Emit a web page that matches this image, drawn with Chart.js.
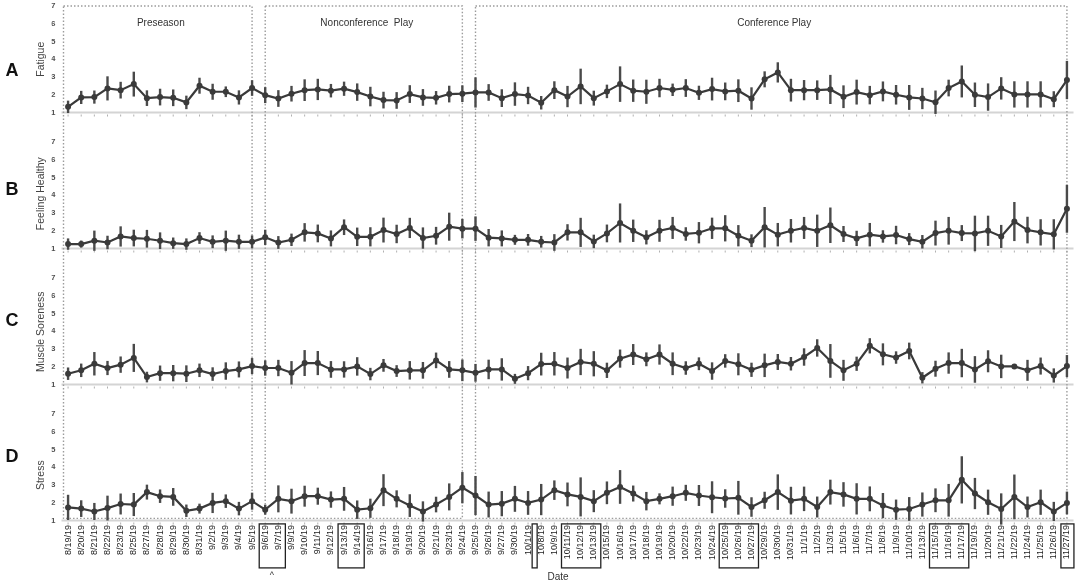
<!DOCTYPE html>
<html>
<head>
<meta charset="utf-8">
<script src="https://cdn.jsdelivr.net/npm/chart.js@4.4.0/dist/chart.umd.min.js"></script>
<style>
  html, body { margin: 0; padding: 0; background: #fff; }
  #wrap { width: 1084px; height: 588px; position: relative; }
</style>
</head>
<body>
<div id="wrap"><canvas id="chartCanvas"></canvas></div>
<script>
var dates = [
  "8/19/19","8/20/19","8/21/19","8/22/19","8/23/19","8/25/19","8/27/19","8/28/19","8/29/19","8/30/19",
  "8/31/19","9/2/19","9/3/19","9/4/19","9/5/19","9/6/19","9/7/19","9/9/19","9/10/19","9/11/19",
  "9/12/19","9/13/19","9/14/19","9/16/19","9/17/19","9/18/19","9/19/19","9/20/19","9/21/19","9/23/19",
  "9/24/19","9/25/19","9/26/19","9/27/19","9/30/19","10/1/19","10/8/19","10/9/19","10/11/19","10/12/19",
  "10/13/19","10/15/19","10/16/19","10/17/19","10/18/19","10/19/19","10/20/19","10/22/19","10/23/19","10/24/19",
  "10/25/19","10/26/19","10/27/19","10/29/19","10/30/19","10/31/19","11/1/19","11/2/19","11/3/19","11/5/19",
  "11/6/19","11/7/19","11/8/19","11/9/19","11/10/19","11/13/19","11/15/19","11/16/19","11/17/19","11/19/19",
  "11/20/19","11/21/19","11/22/19","11/24/19","11/25/19","11/26/19","11/27/19"
];

var fatigueMean = [
  1.32,1.85,1.87,2.36,2.26,2.6,1.81,1.87,1.83,1.57,
  2.51,2.17,2.17,1.85,2.38,1.98,1.79,2.06,2.26,2.3,
  2.23,2.34,2.15,1.9,1.7,1.68,2.04,1.85,1.83,2.04,
  2.06,2.13,2.13,1.81,2.04,1.96,1.55,2.26,1.9,2.47,
  1.81,2.19,2.6,2.23,2.17,2.38,2.28,2.38,2.11,2.32,
  2.19,2.23,1.79,2.87,3.26,2.26,2.26,2.26,2.3,1.89,
  2.15,1.98,2.19,2.0,1.85,1.79,1.58,2.38,2.75,2.0,
  1.87,2.36,2.02,2.02,2.02,1.75,2.83
];
var fatigueErr = [
  0.35,0.37,0.37,0.68,0.47,0.7,0.44,0.47,0.47,0.38,
  0.45,0.45,0.3,0.4,0.44,0.45,0.47,0.44,0.61,0.6,
  0.38,0.4,0.49,0.55,0.47,0.47,0.5,0.47,0.38,0.47,
  0.47,0.85,0.47,0.5,0.66,0.49,0.38,0.5,0.6,1.0,
  0.42,0.38,1.0,0.63,0.68,0.52,0.35,0.5,0.4,0.64,
  0.5,0.64,0.63,0.45,0.57,0.64,0.57,0.55,0.82,0.64,
  0.7,0.52,0.56,0.55,0.7,0.6,0.66,0.47,0.9,0.69,
  0.77,0.63,0.74,0.74,0.74,0.45,1.08
];

var healthyMean = [
  1.25,1.25,1.44,1.34,1.68,1.59,1.55,1.44,1.3,1.25,
  1.59,1.38,1.44,1.38,1.38,1.63,1.34,1.49,1.91,1.85,
  1.57,2.2,1.66,1.66,2.04,1.82,2.16,1.59,1.72,2.23,
  2.12,2.12,1.61,1.57,1.49,1.49,1.38,1.34,1.91,1.91,
  1.4,1.85,2.44,2.0,1.63,2.0,2.16,1.82,1.89,2.14,
  2.14,1.72,1.44,2.2,1.78,2.0,2.16,2.0,2.31,1.82,
  1.57,1.78,1.68,1.76,1.53,1.38,1.87,2.0,1.87,1.85,
  2.0,1.68,2.52,2.04,1.91,1.8,3.24
];
var healthyErr = [
  0.32,0.2,0.57,0.38,0.57,0.47,0.5,0.47,0.32,0.32,
  0.33,0.36,0.57,0.4,0.36,0.43,0.36,0.35,0.52,0.5,
  0.45,0.44,0.52,0.54,0.7,0.52,0.57,0.6,0.5,0.79,
  0.55,0.69,0.49,0.45,0.28,0.33,0.33,0.47,0.46,0.82,
  0.38,0.5,1.1,0.63,0.4,0.62,0.62,0.38,0.6,0.6,
  0.74,0.6,0.36,1.14,0.66,0.66,0.62,0.91,1.0,0.45,
  0.43,0.66,0.35,0.52,0.34,0.38,0.7,0.78,0.45,1.0,
  0.85,0.65,1.1,0.75,0.74,0.85,1.35
];

var sorenessMean = [
  1.61,1.8,2.17,1.93,2.12,2.5,1.42,1.64,1.64,1.61,
  1.8,1.59,1.76,1.85,2.04,1.93,1.93,1.66,2.21,2.21,
  1.85,1.85,2.02,1.59,2.08,1.76,1.8,1.8,2.36,1.85,
  1.8,1.66,1.85,1.85,1.32,1.64,2.15,2.17,1.93,2.27,
  2.17,1.8,2.46,2.69,2.42,2.69,2.17,1.93,2.17,1.76,
  2.33,2.14,1.83,2.08,2.27,2.17,2.55,3.06,2.33,1.8,
  2.17,3.18,2.7,2.52,2.89,1.38,1.89,2.21,2.21,1.85,
  2.31,2.02,2.02,1.8,2.04,1.51,2.04
];
var sorenessErr = [
  0.35,0.38,0.66,0.4,0.46,0.79,0.3,0.43,0.46,0.47,
  0.38,0.38,0.49,0.45,0.45,0.43,0.46,0.66,0.73,0.68,
  0.47,0.46,0.52,0.35,0.36,0.33,0.52,0.47,0.44,0.47,
  0.61,0.5,0.55,0.63,0.28,0.4,0.64,0.66,0.59,0.74,
  0.71,0.43,0.51,0.59,0.39,0.57,0.64,0.38,0.36,0.49,
  0.38,0.62,0.4,0.66,0.45,0.38,0.49,0.49,0.95,0.59,
  0.4,0.43,0.62,0.35,0.47,0.32,0.45,0.6,0.8,0.75,
  0.62,0.66,0.05,0.59,0.48,0.4,0.62
];

var stressMean = [
  1.74,1.67,1.51,1.7,1.93,1.9,2.6,2.37,2.33,1.55,
  1.67,1.99,2.09,1.67,2.09,1.61,2.22,2.09,2.37,2.37,
  2.18,2.22,1.61,1.69,2.71,2.22,1.84,1.51,1.9,2.33,
  2.85,2.41,1.9,1.95,2.22,1.99,2.18,2.71,2.47,2.33,
  2.09,2.56,2.89,2.52,2.09,2.22,2.37,2.56,2.41,2.31,
  2.24,2.28,1.76,2.14,2.6,2.12,2.22,1.76,2.6,2.47,
  2.22,2.22,1.84,1.61,1.65,1.9,2.14,2.14,3.29,2.52,
  2.03,1.65,2.33,1.76,2.03,1.51,1.99
];
var stressErr = [
  0.71,0.47,0.48,0.7,0.59,0.65,0.42,0.38,0.5,0.35,
  0.28,0.57,0.38,0.38,0.48,0.28,0.76,0.7,0.59,0.48,
  0.46,0.67,0.52,0.54,0.9,0.48,0.64,0.57,0.44,0.76,
  0.88,1.1,0.73,0.71,0.73,0.67,0.88,0.55,0.67,1.1,
  0.62,0.64,0.95,0.45,0.52,0.31,0.54,0.45,0.59,0.9,
  0.52,0.95,0.55,0.48,1.0,0.78,0.69,0.59,0.7,0.69,
  0.88,0.7,0.71,0.57,0.67,0.68,0.67,0.92,1.33,0.88,
  0.71,0.88,1.26,0.59,0.71,0.54,0.64
];

var panelNames = ["Fatigue", "Feeling Healthy", "Muscle Soreness", "Stress"];
var panelLetters = ["A", "B", "C", "D"];
var phaseNames = ["Preseason", "Nonconference  Play", "Conference Play"];
var phaseStart = ["8/19/19", "9/6/19", "9/25/19"];
var phaseEnd = ["9/5/19", "9/24/19", "11/27/19"];
var boxedStart = ["9/6/19", "9/13/19", "10/11/19", "10/25/19", "11/15/19", "11/27/19"];
var boxedEnd = ["9/7/19", "9/14/19", "10/13/19", "10/27/19", "11/17/19", "11/27/19"];
var narrowMark = "10/1/19";

var axisIds = ["yA", "yB", "yC", "yD"];
var lineColor = "#3a3a3a";
var dotted = "#9c9c9c";

function makeSet(data, err, axis) {
  return {
    data: data,
    errors: err,
    yAxisID: axis,
    borderColor: lineColor,
    backgroundColor: lineColor,
    borderWidth: 2.2,
    pointRadius: 3,
    pointBorderWidth: 0,
    pointBackgroundColor: lineColor,
    tension: 0,
    clip: false
  };
}

function makeY(min, stackWeight, weight) {
  return {
    type: "linear",
    position: "left",
    stack: "panels",
    stackWeight: stackWeight,
    weight: weight,
    min: min,
    max: 7,
    border: { display: false },
    grid: { display: false, drawTicks: false },
    afterBuildTicks: function (scale) {
      scale.ticks = [1, 2, 3, 4, 5, 6, 7].map(function (v) { return { value: v }; });
    },
    afterFit: function (scale) {
      scale.width = 10;
      scale.paddingTop = 0;
      scale.paddingBottom = 0;
    },
    ticks: {
      autoSkip: false,
      padding: 6,
      color: "#505050",
      font: { size: 8, weight: "bold" }
    }
  };
}

var panelPlugin = {
  id: "panels",
  beforeDatasetsDraw: function (chart) {
    var ctx = chart.ctx;
    var xs = chart.scales.x;
    var area = chart.chartArea;
    var ys = axisIds.map(function (id) { return chart.scales[id]; });
    ctx.save();

    // light baseline and little tick marks in every panel
    ys.forEach(function (s) {
      var y1 = s.getPixelForValue(1);
      ctx.strokeStyle = "#d4d4d4";
      ctx.lineWidth = 2;
      ctx.beginPath();
      ctx.moveTo(area.left, y1);
      ctx.lineTo(area.right, y1);
      ctx.stroke();
      ctx.strokeStyle = "#b0b0b0";
      ctx.lineWidth = 1;
      for (var i = 0; i < dates.length; i++) {
        var px = xs.getPixelForValue(i);
        ctx.beginPath();
        ctx.moveTo(px, y1 + 2);
        ctx.lineTo(px, y1 + 4);
        ctx.stroke();
      }
    });

    // dotted season boxes running through all panels
    var top = ys[0].getPixelForValue(7);
    var bottom = ys[3].getPixelForValue(1.12);
    ctx.strokeStyle = dotted;
    ctx.lineWidth = 1.4;
    ctx.setLineDash([1.5, 2]);
    for (var p = 0; p < phaseNames.length; p++) {
      var l = p === 0 ? area.left + 2 : xs.getPixelForValue(dates.indexOf(phaseStart[p]));
      var r = xs.getPixelForValue(dates.indexOf(phaseEnd[p]));
      ctx.strokeRect(l, top, r - l, bottom - top);
    }
    ctx.setLineDash([]);

    ctx.fillStyle = "#333";
    ctx.font = "10px 'Liberation Sans', Arial, sans-serif";
    ctx.textAlign = "center";
    ctx.textBaseline = "middle";
    for (var q = 0; q < phaseNames.length; q++) {
      var a = q === 0 ? area.left + 2 : xs.getPixelForValue(dates.indexOf(phaseStart[q]));
      var b = xs.getPixelForValue(dates.indexOf(phaseEnd[q]));
      ctx.fillText(phaseNames[q], (a + b) / 2 + 3, ys[0].getPixelForValue(6.05));
    }

    // error bars
    ctx.strokeStyle = "#4a4a4a";
    ctx.lineWidth = 2.4;
    chart.data.datasets.forEach(function (ds) {
      var s = chart.scales[ds.yAxisID];
      ds.data.forEach(function (v, j) {
        var px = xs.getPixelForValue(j);
        ctx.beginPath();
        ctx.moveTo(px, s.getPixelForValue(v - ds.errors[j]));
        ctx.lineTo(px, s.getPixelForValue(v + ds.errors[j]));
        ctx.stroke();
      });
    });
    ctx.restore();
  },
  afterDraw: function (chart) {
    var ctx = chart.ctx;
    var xs = chart.scales.x;
    var area = chart.chartArea;
    var ys = axisIds.map(function (id) { return chart.scales[id]; });
    var letterAt = [3.34, 4.32, 4.58, 4.6];
    var titleAt = [4.0, 4.09, 3.97, 3.55];
    ctx.save();
    ctx.fillStyle = "#111";
    ctx.textAlign = "center";
    ctx.textBaseline = "middle";
    ctx.font = "bold 18px 'Liberation Sans', Arial, sans-serif";
    ys.forEach(function (s, i) {
      ctx.fillText(panelLetters[i], 12, s.getPixelForValue(letterAt[i]));
    });
    ctx.fillStyle = "#444";
    ctx.font = "10.5px 'Liberation Sans', Arial, sans-serif";
    ys.forEach(function (s, i) {
      ctx.save();
      ctx.translate(41, s.getPixelForValue(titleAt[i]));
      ctx.rotate(-Math.PI / 2);
      ctx.fillText(panelNames[i], 0, 0);
      ctx.restore();
    });

    // boxes round some dates
    var bTop = area.bottom + 2.5;
    var bBot = area.bottom + 46.5;
    ctx.strokeStyle = "#222";
    ctx.lineWidth = 1.3;
    for (var k = 0; k < boxedStart.length; k++) {
      var l = xs.getPixelForValue(dates.indexOf(boxedStart[k])) - 6;
      var r = xs.getPixelForValue(dates.indexOf(boxedEnd[k])) + 7;
      ctx.strokeRect(l, bTop, r - l, bBot - bTop);
    }
    var ni = dates.indexOf(narrowMark);
    var mid = (xs.getPixelForValue(ni) + xs.getPixelForValue(ni + 1)) / 2;
    ctx.strokeRect(mid - 2.5, bTop, 5, bBot - bTop);

    ctx.fillStyle = "#333";
    ctx.font = "9px 'Liberation Sans', Arial, sans-serif";
    var ci = dates.indexOf(boxedStart[0]);
    ctx.fillText("^", (xs.getPixelForValue(ci) + xs.getPixelForValue(ci + 1)) / 2, bBot + 8);
    ctx.font = "10px 'Liberation Sans', Arial, sans-serif";
    ctx.fillText("Date", 558, 577);
    ctx.restore();
  }
};

var canvas = document.getElementById("chartCanvas");

var panelChart = new Chart(canvas, {
  type: "line",
  data: {
    labels: dates,
    datasets: [
      makeSet(fatigueMean, fatigueErr, "yA"),
      makeSet(healthyMean, healthyErr, "yB"),
      makeSet(sorenessMean, sorenessErr, "yC"),
      makeSet(stressMean, stressErr, "yD")
    ]
  },
  options: {
    responsive: true,
    maintainAspectRatio: false,
    animation: false,
    events: [],
    layout: { padding: { left: 51.5, right: 10.5, top: 6, bottom: 0 } },
    plugins: { legend: { display: false }, tooltip: { enabled: false } },
    scales: {
      x: {
        type: "category",
        offset: true,
        border: { display: false },
        grid: { display: false, drawTicks: false },
        afterFit: function (scale) { scale.height = 66.6; },
        ticks: {
          autoSkip: false,
          minRotation: 90,
          maxRotation: 90,
          padding: 3.5,
          color: "#222",
          font: { size: 9 }
        }
      },
      yA: makeY(-0.66, 136, 4),
      yB: makeY(-0.66, 136, 3),
      yC: makeY(-0.66, 136, 2),
      yD: makeY(0.95, 107.4, 1)
    }
  },
  plugins: [panelPlugin]
});
</script>
</body>
</html>
